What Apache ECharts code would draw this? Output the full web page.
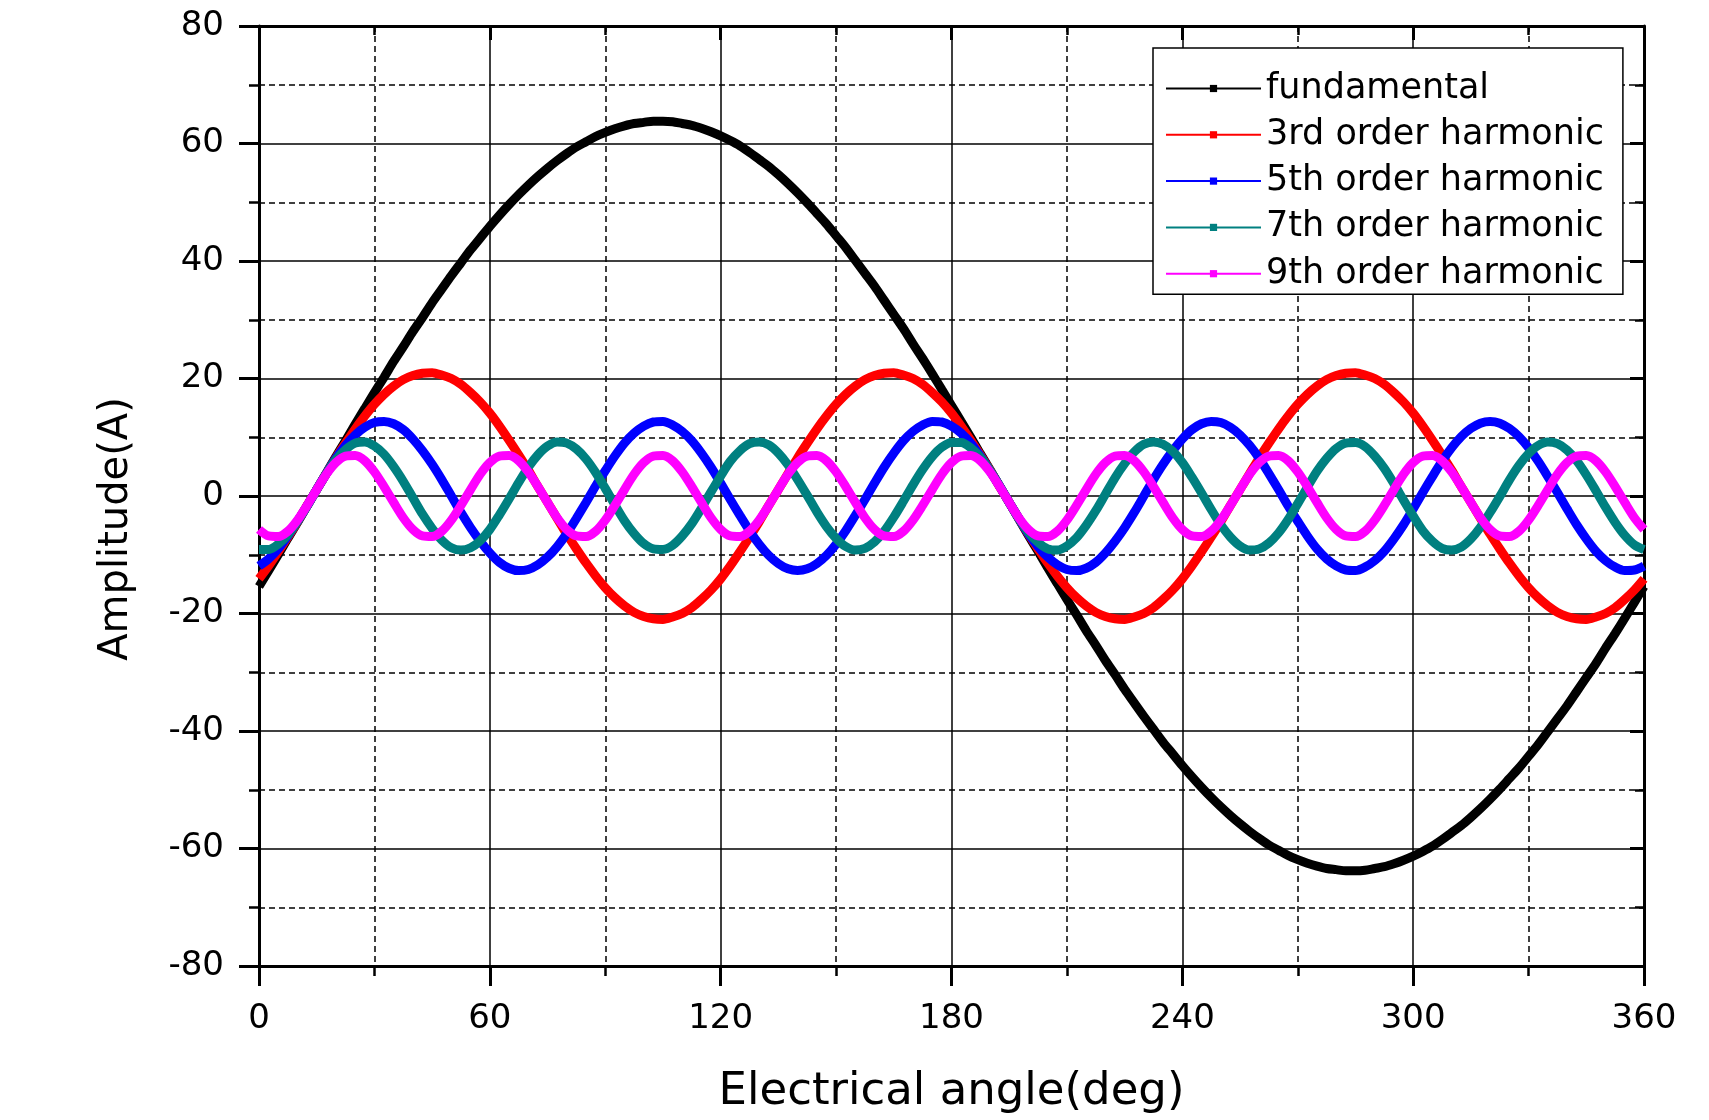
<!DOCTYPE html>
<html>
<head>
<meta charset="utf-8">
<script src="https://cdn.jsdelivr.net/npm/echarts@6/dist/echarts.min.js"></script>
<style>
html,body{margin:0;padding:0;background:#fff;}
#chart{width:1709px;height:1120px;}
</style>
</head>
<body>
<div id="chart"></div>
<script>
// Electrical angle (deg), 2.5-degree sampling
const angles = [0,2.5,5,7.5,10,12.5,15,17.5,20,22.5,25,27.5,30,32.5,35,37.5,40,42.5,45,47.5,
50,52.5,55,57.5,60,62.5,65,67.5,70,72.5,75,77.5,80,82.5,85,87.5,90,92.5,95,97.5,
100,102.5,105,107.5,110,112.5,115,117.5,120,122.5,125,127.5,130,132.5,135,137.5,140,142.5,145,147.5,
150,152.5,155,157.5,160,162.5,165,167.5,170,172.5,175,177.5,180,182.5,185,187.5,190,192.5,195,197.5,
200,202.5,205,207.5,210,212.5,215,217.5,220,222.5,225,227.5,230,232.5,235,237.5,240,242.5,245,247.5,
250,252.5,255,257.5,260,262.5,265,267.5,270,272.5,275,277.5,280,282.5,285,287.5,290,292.5,295,297.5,
300,302.5,305,307.5,310,312.5,315,317.5,320,322.5,325,327.5,330,332.5,335,337.5,340,342.5,345,347.5,
350,352.5,355,357.5,360];

const seriesNames = ['fundamental','3rd order harmonic','5th order harmonic','7th order harmonic','9th order harmonic'];

const fundamental = [-15.4,-12.7,-10.0,-7.2,-4.5,-1.7,1.1,3.9,6.7,9.4,12.2,14.9,17.6,20.2,22.9,25.4,28.0,30.4,32.9,35.2,
37.5,39.7,41.9,43.9,45.9,47.8,49.6,51.3,52.9,54.4,55.8,57.1,58.3,59.4,60.3,61.2,61.9,62.5,63.0,63.4,
63.6,63.8,63.8,63.7,63.4,63.1,62.6,62.0,61.3,60.5,59.6,58.5,57.3,56.1,54.7,53.2,51.6,49.9,48.1,46.3,
44.3,42.3,40.1,37.9,35.7,33.3,30.9,28.5,25.9,23.4,20.8,18.1,15.4,12.7,10.0,7.2,4.5,1.7,-1.1,-3.9,
-6.7,-9.4,-12.2,-14.9,-17.6,-20.2,-22.9,-25.4,-28.0,-30.4,-32.9,-35.2,-37.5,-39.7,-41.9,-43.9,-45.9,-47.8,-49.6,-51.3,
-52.9,-54.4,-55.8,-57.1,-58.3,-59.4,-60.3,-61.2,-61.9,-62.5,-63.0,-63.4,-63.6,-63.8,-63.8,-63.7,-63.4,-63.1,-62.6,-62.0,
-61.3,-60.5,-59.6,-58.5,-57.3,-56.1,-54.7,-53.2,-51.6,-49.9,-48.1,-46.3,-44.3,-42.3,-40.1,-37.9,-35.7,-33.3,-30.9,-28.5,
-25.9,-23.4,-20.8,-18.1,-15.4];

const harmonic3 = [-14.1,-11.9,-9.5,-7.0,-4.4,-1.6,
1.1,3.8,6.5,9.0,11.4,13.6,15.6,17.3,18.7,19.8,20.5,20.9,21.0,20.6,20.0,19.0,17.6,16.0,14.1,11.9,9.5,7.0,4.4,1.6,
-1.1,-3.8,-6.5,-9.0,-11.4,-13.6,-15.6,-17.3,-18.7,-19.8,-20.5,-20.9,-21.0,-20.6,-20.0,-19.0,-17.6,-16.0,-14.1,-11.9,-9.5,-7.0,-4.4,-1.6,
1.1,3.8,6.5,9.0,11.4,13.6,15.6,17.3,18.7,19.8,20.5,20.9,21.0,20.6,20.0,19.0,17.6,16.0,14.1,11.9,9.5,7.0,4.4,1.6,
-1.1,-3.8,-6.5,-9.0,-11.4,-13.6,-15.6,-17.3,-18.7,-19.8,-20.5,-20.9,-21.0,-20.6,-20.0,-19.0,-17.6,-16.0,-14.1,-11.9,-9.5,-7.0,-4.4,-1.6,
1.1,3.8,6.5,9.0,11.4,13.6,15.6,17.3,18.7,19.8,20.5,20.9,21.0,20.6,20.0,19.0,17.6,16.0,14.1,11.9,9.5,7.0,4.4,1.6,
-1.1,-3.8,-6.5,-9.0,-11.4,-13.6,-15.6,-17.3,-18.7,-19.8,-20.5,-20.9,-21.0,-20.6,-20.0,-19.0,-17.6,-16.0,-14.1];

const harmonic5 = [-11.9,-10.7,-9.0,-6.8,-4.3,-1.7,1.1,3.8,6.4,8.6,10.4,11.7,12.5,12.7,12.3,11.3,9.7,7.7,5.4,2.8,
0,-2.8,-5.4,-7.7,-9.7,-11.3,-12.3,-12.7,-12.5,-11.7,-10.4,-8.6,-6.4,-3.8,-1.1,1.7,4.3,6.8,9.0,10.7,
11.9,12.6,12.7,12.1,11.0,9.4,7.3,4.9,2.2,-0.6,-3.3,-5.9,-8.2,-10.1,-11.5,-12.4,-12.7,-12.4,-11.5,-10.1,
-8.2,-5.9,-3.3,-0.6,2.2,4.9,7.3,9.4,11.0,12.1,12.7,12.6,11.9,10.7,9.0,6.8,4.3,1.7,-1.1,-3.8,
-6.4,-8.6,-10.4,-11.7,-12.5,-12.7,-12.3,-11.3,-9.7,-7.7,-5.4,-2.8,0,2.8,5.4,7.7,9.7,11.3,12.3,12.7,
12.5,11.7,10.4,8.6,6.4,3.8,1.1,-1.7,-4.3,-6.8,-9.0,-10.7,-11.9,-12.6,-12.7,-12.1,-11.0,-9.4,-7.3,-4.9,
-2.2,0.6,3.3,5.9,8.2,10.1,11.5,12.4,12.7,12.4,11.5,10.1,8.2,5.9,3.3,0.6,-2.2,-4.9,-7.3,-9.4,
-11.0,-12.1,-12.7,-12.6,-11.9];

const harmonic7 = [-9.1,-9.1,-8.2,-6.6,-4.3,-1.7,1.1,3.8,6.2,7.9,9.0,9.2,8.5,7.1,5.0,2.5,-0.3,-3.1,-5.5,-7.5,
-8.8,-9.2,-8.8,-7.6,-5.7,-3.2,-0.5,2.3,4.9,7.0,8.5,9.2,9.0,8.0,6.3,4.0,1.3,-1.5,-4.2,-6.4,
-8.1,-9.0,-9.1,-8.4,-6.8,-4.7,-2.1,0.7,3.4,5.9,7.7,8.9,9.2,8.7,7.3,5.3,2.8,0.1,-2.7,-5.2,
-7.2,-8.6,-9.2,-8.9,-7.8,-6.0,-3.6,-0.9,1.9,4.5,6.7,8.3,9.1,9.1,8.2,6.6,4.3,1.7,-1.1,-3.8,
-6.2,-7.9,-9.0,-9.2,-8.5,-7.1,-5.0,-2.5,0.3,3.1,5.5,7.5,8.8,9.2,8.8,7.6,5.7,3.2,0.5,-2.3,
-4.9,-7.0,-8.5,-9.2,-9.0,-8.0,-6.3,-4.0,-1.3,1.5,4.2,6.4,8.1,9.0,9.1,8.4,6.8,4.7,2.1,-0.7,
-3.4,-5.9,-7.7,-8.9,-9.2,-8.7,-7.3,-5.3,-2.8,-0.1,2.7,5.2,7.2,8.6,9.2,8.9,7.8,6.0,3.6,0.9,
-1.9,-4.5,-6.7,-8.3,-9.1];

const harmonic9 = [-5.7,-6.8,-6.9,-6.0,-4.1,-1.6,1.1,3.7,5.7,6.8,6.9,6.0,4.1,1.6,-1.1,-3.7,
-5.7,-6.8,-6.9,-6.0,-4.1,-1.6,1.1,3.7,5.7,6.8,6.9,6.0,4.1,1.6,-1.1,-3.7,
-5.7,-6.8,-6.9,-6.0,-4.1,-1.6,1.1,3.7,5.7,6.8,6.9,6.0,4.1,1.6,-1.1,-3.7,
-5.7,-6.8,-6.9,-6.0,-4.1,-1.6,1.1,3.7,5.7,6.8,6.9,6.0,4.1,1.6,-1.1,-3.7,
-5.7,-6.8,-6.9,-6.0,-4.1,-1.6,1.1,3.7,5.7,6.8,6.9,6.0,4.1,1.6,-1.1,-3.7,
-5.7,-6.8,-6.9,-6.0,-4.1,-1.6,1.1,3.7,5.7,6.8,6.9,6.0,4.1,1.6,-1.1,-3.7,
-5.7,-6.8,-6.9,-6.0,-4.1,-1.6,1.1,3.7,5.7,6.8,6.9,6.0,4.1,1.6,-1.1,-3.7,
-5.7,-6.8,-6.9,-6.0,-4.1,-1.6,1.1,3.7,5.7,6.8,6.9,6.0,4.1,1.6,-1.1,-3.7,
-5.7,-6.8,-6.9,-6.0,-4.1,-1.6,1.1,3.7,5.7,6.8,6.9,6.0,4.1,1.6,-1.1,-3.7,
-5.7];

const seriesValues = [fundamental, harmonic3, harmonic5, harmonic7, harmonic9];
const seriesColors = ['#000000','#ff0000','#0000ff','#008080','#ff00ff'];

const FONT = 'DejaVu Sans';
const chart = echarts.init(document.getElementById('chart'), null, {renderer:'canvas'});

function mainAxis(extra){
  return Object.assign({
    type:'value',
    axisLine:{show:true,onZero:false,lineStyle:{color:'#000',width:3}},
    axisTick:{show:true,inside:false,length:20,lineStyle:{color:'#000',width:3}},
    minorTick:{show:true,splitNumber:2,length:10,lineStyle:{color:'#000',width:2.5}},
    splitLine:{show:true,lineStyle:{color:'#000',width:1.5}},
    minorSplitLine:{show:true,lineStyle:{color:'#000',width:1.5,type:[6,4]}},
    axisLabel:{color:'#000',fontSize:34,fontFamily:FONT},
    nameTextStyle:{color:'#000',fontFamily:FONT}
  }, extra);
}
function mirrorAxis(extra){
  return Object.assign({
    type:'value',
    axisLine:{show:true,onZero:false,lineStyle:{color:'#000',width:3}},
    axisTick:{show:true,inside:true,length:14,lineStyle:{color:'#000',width:3}},
    minorTick:{show:true,splitNumber:2,length:9,lineStyle:{color:'#000',width:2.5}},
    splitLine:{show:false},
    minorSplitLine:{show:false},
    axisLabel:{show:false}
  }, extra);
}

const option = {
  animation:false,
  backgroundColor:'#fff',
  grid:{left:259,right:65,top:26,bottom:151,containLabel:false},
  xAxis:[
    mainAxis({min:0,max:360,interval:60,position:'bottom',
      axisLabel:{color:'#000',fontSize:34,fontFamily:FONT,margin:36},
      name:'Electrical angle(deg)',nameLocation:'middle',nameGap:104,
      nameTextStyle:{color:'#000',fontSize:45,fontFamily:FONT}}),
    mirrorAxis({min:0,max:360,interval:60,position:'top'})
  ],
  yAxis:[
    mainAxis({min:-80,max:80,interval:20,position:'left',
      axisLabel:{color:'#000',fontSize:34,fontFamily:FONT,margin:35},
      name:'Amplitude(A)',nameLocation:'middle',nameGap:122,nameRotate:90,
      nameTextStyle:{color:'#000',fontSize:40,fontFamily:FONT,padding:[0,66,0,0]}}),
    mirrorAxis({min:-80,max:80,interval:20,position:'right'})
  ],
  legend:{
    orient:'vertical',
    left:1153, top:48,
    padding:[23,19,3,12],
    itemGap:11.3,
    itemWidth:95, itemHeight:9,
    backgroundColor:'#fff',
    borderColor:'#000', borderWidth:1.5,
    lineStyle:{width:2},
    textStyle:{color:'#000',fontSize:35,fontFamily:FONT},
    data:seriesNames
  },
  series: seriesNames.map((name,i)=>({
    name:name,
    type:'line',
    xAxisIndex:0, yAxisIndex:0,
    data: angles.map((a,j)=>[a, seriesValues[i][j]]),
    smooth:0.3,
    symbol:'rect',
    symbolSize:7,
    showSymbol:false,
    color:seriesColors[i],
    itemStyle:{color:seriesColors[i]},
    lineStyle:{color:seriesColors[i],width:9},
    z:2+i
  }))
};
chart.setOption(option);
</script>
</body>
</html>
